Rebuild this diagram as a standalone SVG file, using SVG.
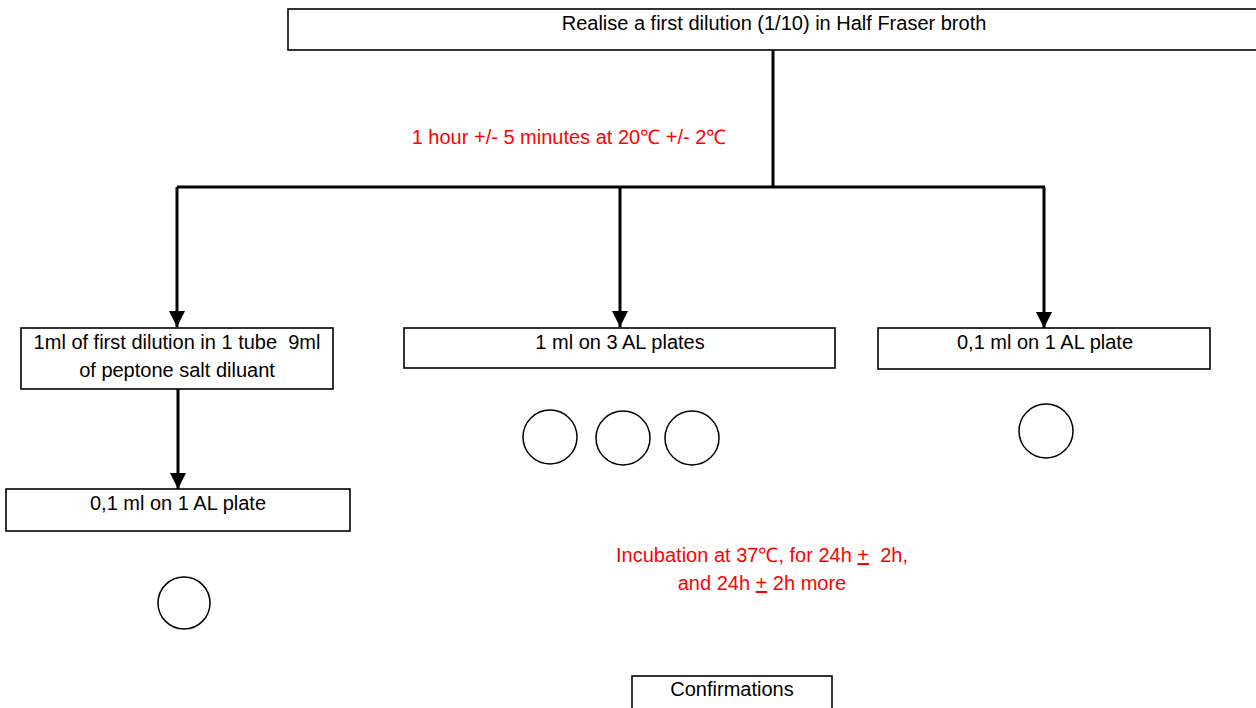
<svg xmlns="http://www.w3.org/2000/svg" width="1256" height="708" viewBox="0 0 1256 708">
<style>
  .box { fill: #ffffff; stroke: #000000; stroke-width: 1.6; }
  .t { font-family: "Liberation Sans", Arial, sans-serif; font-size: 20px; fill: #000000; text-anchor: middle; white-space: pre; }
  .red { fill: #ff0000; }
  .plate { fill: none; stroke: #000000; stroke-width: 1.5; }
  .conn { fill: none; stroke: #000000; stroke-width: 3; }
</style>
<defs>
  <marker id="arrow" markerUnits="userSpaceOnUse" markerWidth="18" markerHeight="16" refX="16" refY="8" orient="auto">
    <path d="M0,0 L16,8 L0,16 Z" fill="#000000"/>
  </marker>
</defs>
<rect width="1256" height="708" fill="#ffffff"/>

<g id="connectors">
  <path class="conn" d="M773,50 L773,187"/>
  <path class="conn" d="M177,187 L1045,187"/>
  <path class="conn" d="M177,187 L177,327" marker-end="url(#arrow)"/>
  <path class="conn" d="M620,187 L620,327" marker-end="url(#arrow)"/>
  <path class="conn" d="M1044,187 L1044,328" marker-end="url(#arrow)"/>
  <path class="conn" d="M178,388 L178,489" marker-end="url(#arrow)"/>
</g>

<g id="node-dilution">
  <rect class="box" x="288" y="9" width="975" height="41"/>
  <text class="t" x="774" y="30">Realise a first dilution (1/10) in Half Fraser broth</text>
</g>

<g id="label-time">
  <text class="t red" x="569" y="144">1 hour +/- 5 minutes at 20℃ +/- 2℃</text>
</g>

<g id="node-tube">
  <rect class="box" x="21" y="328" width="312" height="61"/>
  <text class="t" x="177" y="349" xml:space="preserve">1ml of first dilution in 1 tube  9ml</text>
  <text class="t" x="177" y="377">of peptone salt diluant</text>
</g>

<g id="node-3plates">
  <rect class="box" x="404" y="328" width="431" height="40"/>
  <text class="t" x="620" y="349">1 ml on 3 AL plates</text>
</g>

<g id="node-1plate-right">
  <rect class="box" x="878" y="328" width="332" height="41"/>
  <text class="t" x="1045" y="349">0,1 ml on 1 AL plate</text>
</g>

<g id="node-1plate-left">
  <rect class="box" x="6" y="489" width="344" height="42"/>
  <text class="t" x="178" y="510">0,1 ml on 1 AL plate</text>
</g>

<g id="plates">
  <circle class="plate" cx="184" cy="603" r="26"/>
  <circle class="plate" cx="550" cy="437" r="27"/>
  <circle class="plate" cx="623" cy="438" r="27"/>
  <circle class="plate" cx="692" cy="438" r="27"/>
  <circle class="plate" cx="1046" cy="431" r="27"/>
</g>

<g id="label-incubation">
  <text class="t red" x="762" y="562" xml:space="preserve">Incubation at 37℃, for 24h <tspan text-decoration="underline">+</tspan>  2h,</text>
  <text class="t red" x="762" y="590" xml:space="preserve">and 24h <tspan text-decoration="underline">+</tspan> 2h more</text>
</g>

<g id="node-confirmations">
  <rect class="box" x="632" y="676" width="200" height="40"/>
  <text class="t" x="732" y="696">Confirmations</text>
</g>
</svg>
